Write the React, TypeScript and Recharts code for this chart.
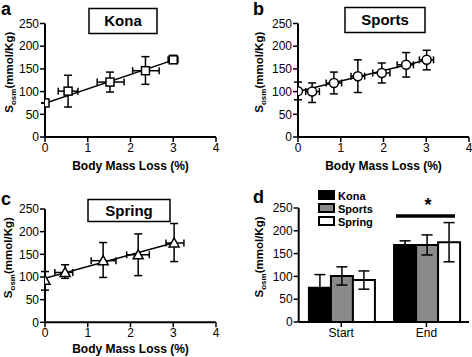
import React from "react";
import {
  ScatterChart,
  Scatter,
  BarChart,
  Bar,
  XAxis,
  YAxis,
  ErrorBar
} from "recharts";

const FONT = "'Liberation Sans', Arial, Helvetica, sans-serif";

// a – Kona
const konaBml = [0, 0.54, 1.52, 2.35, 3.0];
const konaBmlLo = [0, 0.31, 1.22, 2.05, 2.88];
const konaBmlHi = [0, 0.77, 1.85, 2.67, 3.11];
const konaOsm = [75, 101, 121, 146, 170];
const konaOsmLo = [75, 66, 99, 116, 163];
const konaOsmHi = [75, 136, 143, 177, 180];
const konaFitX = [0, 3.05];
const konaFitY = [74, 171];

// b – Sports
const sportsBml = [0, 0.33, 0.84, 1.4, 1.96, 2.53, 3.01];
const sportsBmlLo = [0, 0.18, 0.66, 1.24, 1.75, 2.32, 2.84];
const sportsBmlHi = [0, 0.5, 1.02, 1.56, 2.15, 2.7, 3.17];
const sportsOsm = [101, 100, 119, 134, 141, 159, 170];
const sportsOsmLo = [82, 76, 95, 98, 119, 132, 148];
const sportsOsmHi = [121, 119, 143, 170, 163, 186, 191];
const sportsFitX = [0, 3.03];
const sportsFitY = [100, 170];

// c – Spring
const springBml = [0, 0.47, 1.36, 2.18, 3.02];
const springBmlLo = [0, 0.23, 1.08, 1.91, 2.83];
const springBmlHi = [0, 0.65, 1.66, 2.44, 3.25];
const springOsm = [93, 110, 136, 149, 175];
const springOsmLo = [71, 97, 99, 103, 134];
const springOsmHi = [112, 127, 176, 195, 218];
const springFitX = [0, 3.08];
const springFitY = [97, 177];

// d – start vs end
const groups = ["Start", "End"];
const konaBar = [75, 169];
const konaBarErr = [29, 9];
const sportsBar = [101, 169];
const sportsBarErr = [20, 22];
const springBar = [92, 175];
const springBarErr = [20, 43];

const drinks = ["Kona", "Sports", "Spring"];
const drinkFills = ["#000", "#8a8a8a", "#fff"];

const xTicks = [0, 1, 2, 3, 4];
const yTicks = [0, 50, 100, 150, 200, 250];

type Pt = { x: number; y: number; xErr?: number[]; yErr?: number[] };

function toPoints(
  xs: number[],
  xLo: number[],
  xHi: number[],
  ys: number[],
  yLo: number[],
  yHi: number[]
): Pt[] {
  return xs.map((x, i) => ({
    x,
    y: ys[i],
    xErr: [x - xLo[i], xHi[i] - x],
    yErr: [ys[i] - yLo[i], yHi[i] - ys[i]]
  }));
}

const toLine = (xs: number[], ys: number[]): Pt[] =>
  xs.map((x, i) => ({ x, y: ys[i] }));

const barData = groups.map((g, i) => ({
  group: g,
  kona: konaBar[i],
  konaErr: konaBarErr[i],
  sports: sportsBar[i],
  sportsErr: sportsBarErr[i],
  spring: springBar[i],
  springErr: springBarErr[i]
}));

const axisLine = { stroke: "#000", strokeWidth: 2 };
const tickLine = { stroke: "#000", strokeWidth: 1.5 };
const tickStyle = { fill: "#000", fontSize: 12, fontFamily: FONT };

const squareMark = (p: any) => (
  <rect x={p.cx - 4} y={p.cy - 4} width={8} height={8} fill="#fff" stroke="#000" strokeWidth={1.5} />
);
const circleMark = (p: any) => (
  <circle cx={p.cx} cy={p.cy} r={4.5} fill="#fff" stroke="#000" strokeWidth={1.5} />
);
const triangleMark = (p: any) => (
  <path
    d={`M${p.cx},${p.cy - 5} L${p.cx + 5},${p.cy + 4} L${p.cx - 5},${p.cy + 4} Z`}
    fill="#fff"
    stroke="#000"
    strokeWidth={1.5}
  />
);
const noMark = () => <g />;

function OsmLabel({ x, y }: { x: number; y: number }) {
  return (
    <text
      transform={`translate(${x},${y}) rotate(-90)`}
      textAnchor="middle"
      fontFamily={FONT}
      fontWeight="bold"
      fontSize={11.5}
      fill="#000"
    >
      S
      <tspan fontSize={8} dy={3}>
        osm
      </tspan>
      <tspan dy={-3}>(mmol/Kg)</tspan>
    </text>
  );
}

interface PanelProps {
  left: number;
  top: number;
  height: number;
  plotLeft: number;
  plotTop: number;
  plotRight: number;
  plotBottom: number;
  letter: string;
  letterX: number;
  letterY: number;
  title: string;
  box: [number, number, number, number];
  points: Pt[];
  fit: Pt[];
  mark: (p: any) => React.ReactElement;
  yLabelX: number;
  xLabelY: number;
}

function ScatterPanel(p: PanelProps) {
  const [bx, by, bw, bh] = p.box;
  return (
    <div style={{ position: "absolute", left: p.left, top: p.top, width: 236, height: p.height }}>
      <ScatterChart
        width={236}
        height={p.height}
        margin={{ top: p.plotTop, right: 236 - p.plotRight, bottom: 0, left: 0 }}
      >
        <XAxis
          type="number"
          dataKey="x"
          domain={[0, 4]}
          ticks={xTicks}
          height={p.height - p.plotBottom}
          tickSize={5}
          tickMargin={1}
          axisLine={axisLine}
          tickLine={tickLine}
          tick={tickStyle}
          allowDataOverflow
        />
        <YAxis
          type="number"
          dataKey="y"
          domain={[0, 250]}
          ticks={yTicks}
          width={p.plotLeft}
          tickSize={5}
          tickMargin={1}
          axisLine={axisLine}
          tickLine={tickLine}
          tick={tickStyle}
          allowDataOverflow
        />
        <Scatter
          data={p.fit}
          shape={noMark}
          line={{ stroke: "#000", strokeWidth: 1.5 }}
          lineType="joint"
          isAnimationActive={false}
        />
        <Scatter data={p.points} shape={p.mark} isAnimationActive={false}>
          <ErrorBar dataKey="yErr" direction="y" width={4} stroke="#000" strokeWidth={1.5} />
          <ErrorBar dataKey="xErr" direction="x" width={3.5} stroke="#000" strokeWidth={1.5} />
        </Scatter>
      </ScatterChart>
      <svg
        width={236}
        height={p.height}
        style={{ position: "absolute", left: 0, top: 0, pointerEvents: "none" }}
      >
        <text x={p.letterX} y={p.letterY} fontFamily={FONT} fontWeight="bold" fontSize={18} fill="#000">
          {p.letter}
        </text>
        <rect x={bx} y={by} width={bw} height={bh} fill="#fff" stroke="#000" strokeWidth={1.5} />
        <text
          x={bx + bw / 2}
          y={by + bh / 2 + 5}
          textAnchor="middle"
          fontFamily={FONT}
          fontWeight="bold"
          fontSize={15}
          fill="#000"
        >
          {p.title}
        </text>
        <OsmLabel x={p.yLabelX} y={(p.plotTop + p.plotBottom) / 2 - 8} />
        <text
          x={(p.plotLeft + p.plotRight) / 2}
          y={p.xLabelY}
          textAnchor="middle"
          fontFamily={FONT}
          fontWeight="bold"
          fontSize={12}
          fill="#000"
        >
          Body Mass Loss (%)
        </text>
      </svg>
    </div>
  );
}

function BarPanel() {
  const plotLeft = 62.7;
  const plotTop = 30;
  const height = 179;
  const plotBottom = 144;
  return (
    <div style={{ position: "absolute", left: 236, top: 178, width: 236, height }}>
      <BarChart
        width={236}
        height={height}
        data={barData}
        margin={{ top: plotTop, right: 3, bottom: 0, left: 0 }}
        barCategoryGap="12%"
        barGap={0}
      >
        <XAxis
          dataKey="group"
          height={height - plotBottom}
          tickSize={5}
          tickMargin={1}
          axisLine={axisLine}
          tickLine={tickLine}
          tick={tickStyle}
        />
        <YAxis
          domain={[0, 250]}
          ticks={yTicks}
          width={plotLeft}
          tickSize={5}
          tickMargin={1}
          axisLine={axisLine}
          tickLine={tickLine}
          tick={tickStyle}
        />
        <Bar dataKey="kona" fill={drinkFills[0]} stroke="#000" strokeWidth={2} isAnimationActive={false}>
          <ErrorBar dataKey="konaErr" direction="y" width={5.5} stroke="#000" strokeWidth={1.5} />
        </Bar>
        <Bar dataKey="sports" fill={drinkFills[1]} stroke="#000" strokeWidth={2} isAnimationActive={false}>
          <ErrorBar dataKey="sportsErr" direction="y" width={5.5} stroke="#000" strokeWidth={1.5} />
        </Bar>
        <Bar dataKey="spring" fill={drinkFills[2]} stroke="#000" strokeWidth={2} isAnimationActive={false}>
          <ErrorBar dataKey="springErr" direction="y" width={5.5} stroke="#000" strokeWidth={1.5} />
        </Bar>
      </BarChart>
      <svg
        width={236}
        height={height}
        style={{ position: "absolute", left: 0, top: 0, pointerEvents: "none" }}
      >
        <text x={17} y={25} fontFamily={FONT} fontWeight="bold" fontSize={18} fill="#000">
          d
        </text>
        {drinks.map((name, i) => (
          <g key={name}>
            <rect
              x={83}
              y={13 + i * 13}
              width={15}
              height={8}
              fill={drinkFills[i]}
              stroke="#000"
              strokeWidth={2}
            />
            <text
              x={102}
              y={21.5 + i * 13}
              fontFamily={FONT}
              fontWeight="bold"
              fontSize={11}
              fill="#000"
            >
              {name}
            </text>
          </g>
        ))}
        <line x1={160} y1={38} x2={219} y2={38} stroke="#000" strokeWidth={3.5} />
        <text x={192} y={33} textAnchor="middle" fontFamily={FONT} fontWeight="bold" fontSize={18} fill="#000">
          *
        </text>
        <OsmLabel x={27} y={(plotTop + plotBottom) / 2 - 8} />
      </svg>
    </div>
  );
}

export default function App() {
  return (
    <div
      style={{
        position: "absolute",
        left: 0,
        top: 0,
        width: 472,
        height: 357,
        background: "#fff",
        fontFamily: FONT,
        overflow: "hidden"
      }}
    >
      <ScatterPanel
        left={0}
        top={0}
        height={178}
        plotLeft={45}
        plotTop={23.5}
        plotRight={216}
        plotBottom={137}
        letter="a"
        letterX={1}
        letterY={15}
        title="Kona"
        box={[89, 8.5, 68, 25]}
        points={toPoints(konaBml, konaBmlLo, konaBmlHi, konaOsm, konaOsmLo, konaOsmHi)}
        fit={toLine(konaFitX, konaFitY)}
        mark={squareMark}
        yLabelX={13}
        xLabelY={170}
      />
      <ScatterPanel
        left={236}
        top={0}
        height={178}
        plotLeft={62}
        plotTop={23.5}
        plotRight={233}
        plotBottom={137}
        letter="b"
        letterX={17}
        letterY={15}
        title="Sports"
        box={[109, 7.5, 80, 25]}
        points={toPoints(sportsBml, sportsBmlLo, sportsBmlHi, sportsOsm, sportsOsmLo, sportsOsmHi)}
        fit={toLine(sportsFitX, sportsFitY)}
        mark={circleMark}
        yLabelX={27}
        xLabelY={170}
      />
      <ScatterPanel
        left={0}
        top={178}
        height={179}
        plotLeft={45}
        plotTop={31}
        plotRight={216}
        plotBottom={144.3}
        letter="c"
        letterX={1}
        letterY={27}
        title="Spring"
        box={[88, 21.5, 82, 22]}
        points={toPoints(springBml, springBmlLo, springBmlHi, springOsm, springOsmLo, springOsmHi)}
        fit={toLine(springFitX, springFitY)}
        mark={triangleMark}
        yLabelX={12}
        xLabelY={175}
      />
      <BarPanel />
    </div>
  );
}
